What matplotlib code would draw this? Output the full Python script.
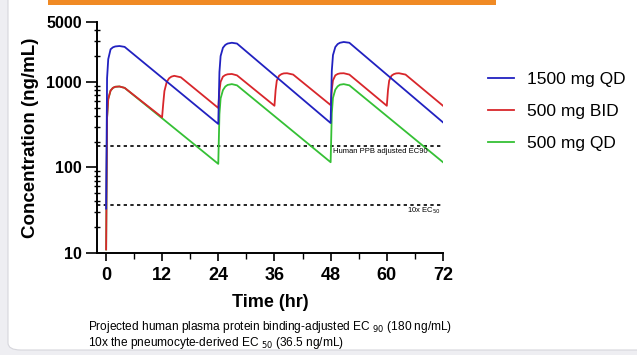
import matplotlib
matplotlib.use("Agg")
from matplotlib import pyplot as plt
from matplotlib.patches import FancyBboxPatch, Rectangle
from matplotlib.ticker import LogLocator, NullFormatter
import numpy as np

plt.rcParams['font.family'] = ['Liberation Sans', 'DejaVu Sans']

# simulated plasma concentrations (ng/mL)
t_qd = [0.05, 0.25, 0.5, 1, 1.5, 2, 2.9, 4, 24,
        24.25, 24.5, 25, 25.5, 26, 26.9, 28, 48,
        48.25, 48.5, 49, 49.5, 50, 50.8, 52, 72]
c_1500qd = [33, 1100, 1840, 2400, 2530, 2590, 2620, 2560, 322,
            1300, 2000, 2500, 2700, 2800, 2860, 2800, 330,
            1350, 2050, 2550, 2760, 2860, 2920, 2860, 336]
c_500qd = [11, 380, 630, 790, 850, 875, 882, 850, 110,
           420, 640, 800, 880, 920, 940, 910, 115,
           430, 650, 810, 885, 925, 940, 910, 115]

t_bid = [0.05, 0.25, 0.5, 1, 1.5, 2, 2.9, 4, 12,
         12.25, 12.5, 13, 13.5, 14, 14.6, 16, 24,
         24.25, 24.5, 25, 25.5, 26, 26.9, 28, 36,
         36.25, 36.5, 37, 37.5, 38, 38.7, 40, 48,
         48.25, 48.5, 49, 49.5, 50, 50.8, 52, 60,
         60.25, 60.5, 61, 61.5, 62, 62.6, 64, 72]
c_500bid = [11, 380, 630, 790, 850, 875, 882, 850, 385,
            560, 780, 1000, 1100, 1150, 1175, 1130, 495,
            780, 1000, 1150, 1200, 1225, 1235, 1190, 525,
            800, 1030, 1180, 1230, 1255, 1260, 1215, 535,
            810, 1040, 1190, 1235, 1255, 1260, 1215, 525,
            800, 1030, 1180, 1230, 1255, 1260, 1215, 525]

ec90_adj = 180
ec50_x10 = 36.5
xticks = [0, 12, 24, 36, 48, 60, 72]
yticks = [10, 100, 1000, 5000]

fig = plt.figure(figsize=(6.37, 3.55), dpi=100)
fig.patch.set_facecolor('#eeeef2')
# white card with rounded corner
card = FancyBboxPatch((8/637, 5/355), 1.2, 1.2, boxstyle="round,pad=0,rounding_size=0.02",
                      transform=fig.transFigure, facecolor='white', edgecolor='#d6d6dc',
                      lw=0.8, zorder=-10)
fig.patches.append(card)
fig.patches.append(Rectangle((48/637, 1 - 5/355), (496-48)/637, 5/355,
                             transform=fig.transFigure, facecolor='#f08a24',
                             edgecolor='none', zorder=-5))

ax = fig.add_axes([97/637, (355-253)/355, (443-97)/637, (253-22)/355])
ax.patch.set_alpha(0)

ax.plot(t_qd, c_500qd, color='#35c035', lw=1.3, label='500 mg QD', zorder=3)
ax.plot(t_bid, c_500bid, color='#d8262b', lw=1.3, label='500 mg BID', zorder=4)
ax.plot(t_qd, c_1500qd, color='#2121c0', lw=1.3, label='1500 mg QD', zorder=5)

ax.axhline(ec90_adj, color='black', lw=1.2, linestyle=(0, (2, 2)), zorder=2)
ax.axhline(ec50_x10, color='black', lw=1.2, linestyle=(0, (2, 2)), zorder=2)
ax.text(48.6, 152, 'Human PPB adjusted EC90', fontsize=5.5, va='center', ha='left')
ax.text(71.5, 31, '10x EC$_{50}$', fontsize=5.5, va='center', ha='right')

ax.set_yscale('log')
ax.set_xlim(-1.9, 72)
ax.set_ylim(10, 5000)
ax.set_xticks(xticks)
ax.set_xticks([6, 18, 30, 42, 54, 66], minor=True)
ax.set_yticks(yticks)
ax.set_yticklabels([str(v) for v in yticks])
ax.yaxis.set_minor_locator(LogLocator(base=10, subs=np.arange(2, 10)))
ax.yaxis.set_minor_formatter(NullFormatter())

for s in ['top', 'right']:
    ax.spines[s].set_visible(False)
for s in ['left', 'bottom']:
    ax.spines[s].set_linewidth(1.4)

ax.tick_params(axis='y', which='major', direction='out', length=8, width=1.2, pad=3, labelsize=11.5)
ax.tick_params(axis='y', which='minor', direction='inout', length=5, width=1.0)
ax.tick_params(axis='x', which='major', direction='out', length=6, width=1.2, pad=4, labelsize=13)
ax.tick_params(axis='x', which='minor', direction='out', length=4, width=1.0)
for lab in ax.get_xticklabels() + ax.get_yticklabels():
    lab.set_fontweight('bold')

ax.set_xlabel('Time (hr)', fontsize=13, fontweight='bold', labelpad=7)
ax.set_ylabel('Concentration (ng/mL)', fontsize=13.5, fontweight='bold', labelpad=5)

h, l = ax.get_legend_handles_labels()
order = [2, 1, 0]
fig.legend([h[i] for i in order], [l[i] for i in order], loc='upper left',
           bbox_to_anchor=(472/637, 1 - 56/355), frameon=False, fontsize=12.5,
           handlelength=1.5, handletextpad=0.75, labelspacing=0.98)

fig.text(88/637, 1 - 327/355, 'Projected human plasma protein binding-adjusted EC $_{90}$ (180 ng/mL)',
         fontsize=8.6, va='center', ha='left')
fig.text(88/637, 1 - 343/355, '10x the pneumocyte-derived EC $_{50}$ (36.5 ng/mL)',
         fontsize=8.6, va='center', ha='left')

fig.savefig('out.png', dpi=100, facecolor=fig.get_facecolor())
